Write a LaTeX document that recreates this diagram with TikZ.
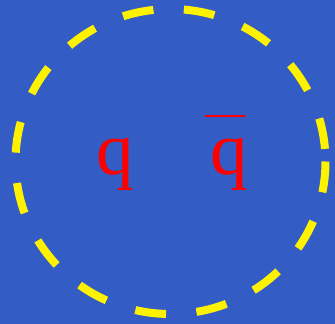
\documentclass[tikz,border=0pt]{standalone}
\usepackage{fontspec}
\setmainfont{Liberation Serif}
\definecolor{bgblue}{RGB}{51,92,196}
\begin{document}
\begin{tikzpicture}[x=1pt, y=-1pt,
  quarklabel/.style={text=red, font=\fontsize{75}{75}\selectfont, inner sep=0pt, anchor=base}]
  \fill[bgblue] (0,0) rectangle (335,324);
  \useasboundingbox (0,0) rectangle (335,324);
  % dashed yellow ring
  \coordinate (ring) at (170.5,161.5);
  \draw[yellow, line width=8pt, dash pattern=on 31pt off 30.5pt]
    (ring) ++(155,0) arc[start angle=0, end angle=360, x radius=155, y radius=152.5];
  % quark and antiquark
  \node[quarklabel] (quark) at (115,174.5) {q};
  \node[quarklabel] (antiquark) at (229,174.5) {q};
  \draw[red, line width=2.5pt] ([shift={(-24,-22)}]antiquark.north) -- ([shift={(16,-22)}]antiquark.north);
\end{tikzpicture}
\end{document}
